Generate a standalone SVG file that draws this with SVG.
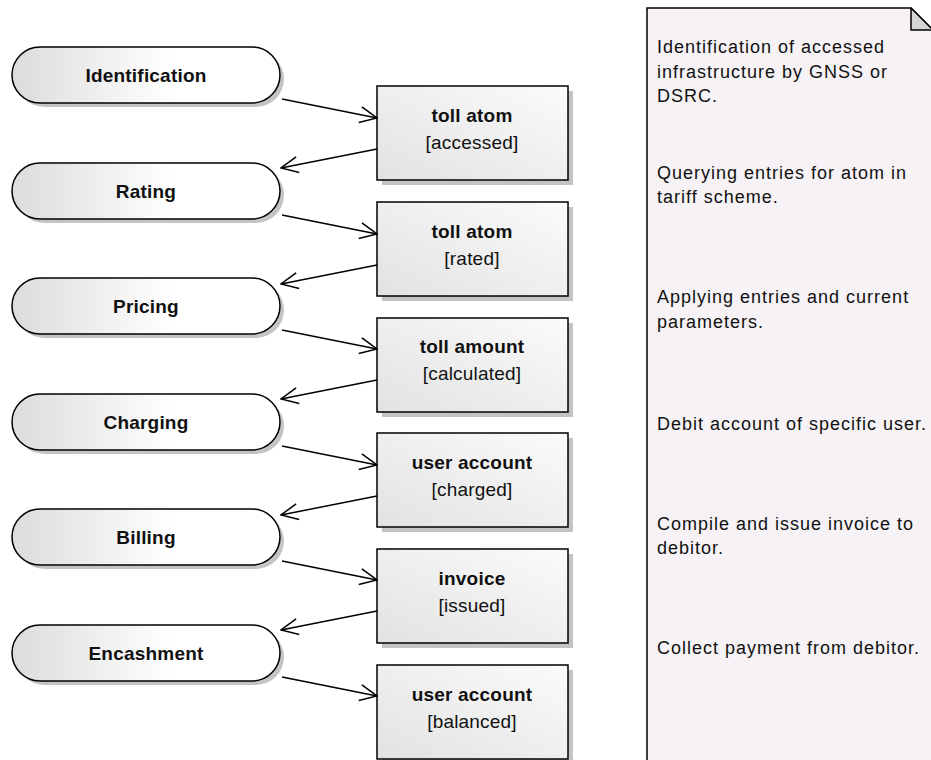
<svg xmlns="http://www.w3.org/2000/svg" width="931" height="760" viewBox="0 0 931 760">
  <style>
    .act { fill: url(#actGrad); stroke: #000; stroke-width: 1.5; }
    .obj { fill: url(#objGrad); stroke: #000; stroke-width: 1.5; }
    .shadow { fill: #c4c4c4; }
    .lbl { font-family: "Liberation Sans", Arial, sans-serif; font-size: 19px; font-weight: bold; fill: #111; text-anchor: middle; letter-spacing: 0.2px; }
    .name { font-family: "Liberation Sans", Arial, sans-serif; font-size: 19px; font-weight: bold; fill: #111; text-anchor: middle; letter-spacing: 0.2px; }
    .state { font-family: "Liberation Sans", Arial, sans-serif; font-size: 19px; fill: #111; text-anchor: middle; letter-spacing: 0.2px; }
    .note { font-family: "Liberation Sans", Arial, sans-serif; font-size: 18px; fill: #111; letter-spacing: 1px; }
    .flow { stroke: #000; stroke-width: 1.5; fill: none; marker-end: url(#open); }
  </style>
  <defs>
    <linearGradient id="actGrad" x1="0" y1="0" x2="1" y2="0">
      <stop offset="0" stop-color="#dcdcdc"/>
      <stop offset="0.6" stop-color="#ffffff"/>
      <stop offset="1" stop-color="#ffffff"/>
    </linearGradient>
    <linearGradient id="objGrad" x1="0" y1="1" x2="1" y2="0">
      <stop offset="0" stop-color="#e2e2e2"/>
      <stop offset="1" stop-color="#fbfbfb"/>
    </linearGradient>
    <marker id="open" viewBox="0 0 20 20" refX="19" refY="10" markerWidth="20" markerHeight="20" markerUnits="userSpaceOnUse" orient="auto">
      <path d="M2,2 L19,10 L2,18" fill="none" stroke="#000" stroke-width="1.5"/>
    </marker>
  </defs>

  <rect width="931" height="760" fill="#ffffff"/>

  <!-- actions -->
  <g id="identification">
    <rect class="shadow" x="16" y="51" width="268" height="56" rx="28"/>
    <rect class="act" x="12" y="47" width="268" height="56" rx="28"/>
    <text class="lbl" x="146" y="82">Identification</text>
  </g>
  <g id="rating">
    <rect class="shadow" x="16" y="167" width="268" height="56" rx="28"/>
    <rect class="act" x="12" y="163" width="268" height="56" rx="28"/>
    <text class="lbl" x="146" y="198">Rating</text>
  </g>
  <g id="pricing">
    <rect class="shadow" x="16" y="282" width="268" height="56" rx="28"/>
    <rect class="act" x="12" y="278" width="268" height="56" rx="28"/>
    <text class="lbl" x="146" y="313">Pricing</text>
  </g>
  <g id="charging">
    <rect class="shadow" x="16" y="398" width="268" height="56" rx="28"/>
    <rect class="act" x="12" y="394" width="268" height="56" rx="28"/>
    <text class="lbl" x="146" y="429">Charging</text>
  </g>
  <g id="billing">
    <rect class="shadow" x="16" y="513" width="268" height="56" rx="28"/>
    <rect class="act" x="12" y="509" width="268" height="56" rx="28"/>
    <text class="lbl" x="146" y="544">Billing</text>
  </g>
  <g id="encashment">
    <rect class="shadow" x="16" y="629" width="268" height="56" rx="28"/>
    <rect class="act" x="12" y="625" width="268" height="56" rx="28"/>
    <text class="lbl" x="146" y="660">Encashment</text>
  </g>

  <!-- objects -->
  <g id="toll-atom-accessed">
    <rect class="shadow" x="382" y="91" width="191" height="94"/>
    <rect class="obj" x="377" y="86" width="191" height="94"/>
    <text class="name" x="472" y="122">toll atom</text>
    <text class="state" x="472" y="149">[accessed]</text>
  </g>
  <g id="toll-atom-rated">
    <rect class="shadow" x="382" y="207" width="191" height="94"/>
    <rect class="obj" x="377" y="202" width="191" height="94"/>
    <text class="name" x="472" y="238">toll atom</text>
    <text class="state" x="472" y="265">[rated]</text>
  </g>
  <g id="toll-amount-calculated">
    <rect class="shadow" x="382" y="323" width="191" height="94"/>
    <rect class="obj" x="377" y="318" width="191" height="94"/>
    <text class="name" x="472" y="353">toll amount</text>
    <text class="state" x="472" y="380">[calculated]</text>
  </g>
  <g id="user-account-charged">
    <rect class="shadow" x="382" y="438" width="191" height="94"/>
    <rect class="obj" x="377" y="433" width="191" height="94"/>
    <text class="name" x="472" y="469">user account</text>
    <text class="state" x="472" y="496">[charged]</text>
  </g>
  <g id="invoice-issued">
    <rect class="shadow" x="382" y="554" width="191" height="94"/>
    <rect class="obj" x="377" y="549" width="191" height="94"/>
    <text class="name" x="472" y="585">invoice</text>
    <text class="state" x="472" y="612">[issued]</text>
  </g>
  <g id="user-account-balanced">
    <rect class="shadow" x="382" y="670" width="191" height="94"/>
    <rect class="obj" x="377" y="665" width="191" height="94"/>
    <text class="name" x="472" y="701">user account</text>
    <text class="state" x="472" y="728">[balanced]</text>
  </g>

  <!-- object flows -->
  <g id="flows">
    <line class="flow" x1="282" y1="99" x2="377" y2="118"/>
    <line class="flow" x1="377" y1="149" x2="281" y2="168"/>
    <line class="flow" x1="282" y1="215" x2="377" y2="234"/>
    <line class="flow" x1="377" y1="265" x2="281" y2="284"/>
    <line class="flow" x1="282" y1="330" x2="377" y2="349"/>
    <line class="flow" x1="377" y1="380" x2="281" y2="399"/>
    <line class="flow" x1="282" y1="446" x2="377" y2="465"/>
    <line class="flow" x1="377" y1="496" x2="281" y2="515"/>
    <line class="flow" x1="282" y1="561" x2="377" y2="580"/>
    <line class="flow" x1="377" y1="611" x2="281" y2="630"/>
    <line class="flow" x1="282" y1="677" x2="377" y2="696"/>
  </g>

  <!-- note -->
  <g id="note">
    <path d="M647,8 L911,8 L933,30 L933,762 L647,762 Z" fill="#f6f2f6" stroke="#000" stroke-width="1.5"/>
    <path d="M911,8 L911,30 L933,30 Z" fill="#d4d4d4" stroke="#000" stroke-width="1.5" stroke-linejoin="round"/>
    <text class="note" x="657" y="53">Identification of accessed</text>
    <text class="note" x="657" y="78">infrastructure by GNSS or</text>
    <text class="note" x="657" y="102">DSRC.</text>
    <text class="note" x="657" y="179">Querying entries for atom in</text>
    <text class="note" x="657" y="203">tariff scheme.</text>
    <text class="note" x="657" y="303">Applying entries and current</text>
    <text class="note" x="657" y="328">parameters.</text>
    <text class="note" x="657" y="430">Debit account of specific user.</text>
    <text class="note" x="657" y="530">Compile and issue invoice to</text>
    <text class="note" x="657" y="554">debitor.</text>
    <text class="note" x="657" y="654">Collect payment from debitor.</text>
  </g>
</svg>
